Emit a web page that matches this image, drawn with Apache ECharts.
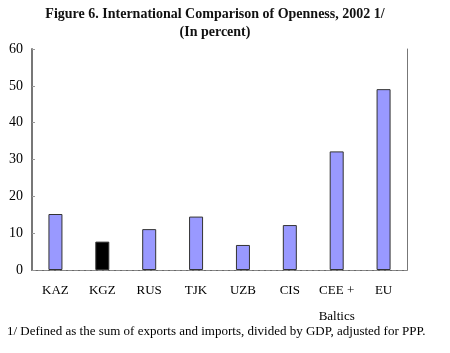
<!DOCTYPE html>
<html>
<head>
<meta charset="utf-8">
<script src="https://cdn.jsdelivr.net/npm/echarts@6/dist/echarts.min.js"></script>
<style>
  html, body { margin: 0; padding: 0; background: #fff; }
  #chart { width: 450px; height: 353px; }
</style>
</head>
<body>
<div id="chart"></div>
<script>
var categories = ['KAZ', 'KGZ', 'RUS', 'TJK', 'UZB', 'CIS', 'CEE +\nBaltics', 'EU'];
var openness = [15.2, 7.7, 11.1, 14.5, 6.8, 12.2, 32.2, 49.1];
var yTicks = [0, 10, 20, 30, 40, 50, 60];

var serif = '"Liberation Serif", "DejaVu Serif", serif';

var barData = openness.map(function (v, i) {
  return {
    value: v,
    itemStyle: { color: categories[i] === 'KGZ' ? '#000000' : '#9999ff' }
  };
});

var chart = echarts.init(document.getElementById('chart'), null, { renderer: 'canvas' });

chart.setOption({
  backgroundColor: '#ffffff',
  animation: false,
  title: {
    text: 'Figure 6. International Comparison of Openness, 2002 1/\n(In percent)',
    left: 210,
    top: 0,
    textAlign: 'center',
    textStyle: {
      fontFamily: serif,
      fontSize: 14,
      fontWeight: 'bold',
      color: '#111',
      lineHeight: 18
    }
  },
  graphic: [{
    type: 'text',
    left: 7,
    top: 325,
    style: {
      text: '1/ Defined as the sum of exports and imports, divided by GDP, adjusted for PPP.',
      font: '13px ' + serif,
      fill: '#000'
    }
  }],
  grid: { left: 32, top: 49, right: 43, bottom: 83 },
  xAxis: [{
    type: 'category',
    data: categories,
    axisLine: { lineStyle: { color: '#555', width: 1 } },
    axisTick: { show: false },
    axisLabel: {
      color: '#000',
      fontFamily: serif,
      fontSize: 13,
      margin: 8,
      lineHeight: 26,
      interval: 0
    }
  }, {
    type: 'category',
    data: categories,
    position: 'top',
    axisLine: { lineStyle: { color: '#888', type: 'dashed', width: 1 } },
    axisTick: { show: false },
    axisLabel: { show: false }
  }],
  yAxis: [{
    type: 'value',
    min: yTicks[0],
    max: yTicks[yTicks.length - 1],
    interval: 10,
    axisLine: { show: true, lineStyle: { color: '#777', width: 2 } },
    axisTick: { show: true, inside: true, length: 3, lineStyle: { color: '#999' } },
    splitLine: { show: false },
    axisLabel: {
      color: '#000',
      fontFamily: serif,
      fontSize: 14,
      margin: 9
    }
  }, {
    type: 'value',
    position: 'right',
    min: yTicks[0],
    max: yTicks[yTicks.length - 1],
    interval: 10,
    axisLine: { show: true, lineStyle: { color: '#777', width: 1 } },
    axisTick: { show: false },
    axisLabel: { show: false },
    splitLine: { show: false }
  }],
  series: [{
    type: 'bar',
    data: barData,
    barWidth: 14,
    itemStyle: { borderColor: '#333', borderWidth: 1 }
  }]
});
</script>
</body>
</html>
